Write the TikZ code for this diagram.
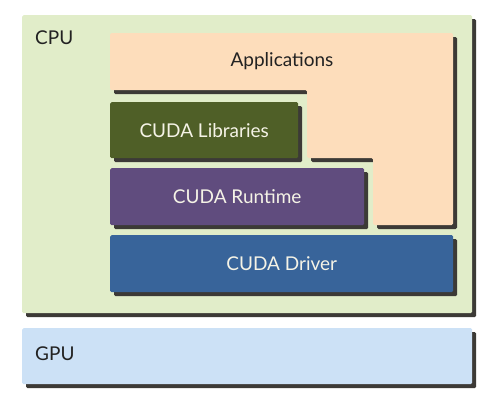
\documentclass[tikz,border=0pt]{standalone}
\usepackage{fontspec}
\setmainfont{Lato}
\usetikzlibrary{positioning,shadows}
\definecolor{cpubg}{HTML}{E1EDC9}
\definecolor{gpubg}{HTML}{CCE1F6}
\definecolor{peach}{HTML}{FDDDBB}
\definecolor{libs}{HTML}{4F5F27}
\definecolor{rtime}{HTML}{604C7E}
\definecolor{drv}{HTML}{38649A}
\definecolor{edgedark}{HTML}{3C3A36}
\definecolor{ink}{HTML}{222222}
\definecolor{pale}{HTML}{F5F3E6}
\tikzset{
  layer/.style={anchor=north west,inner sep=0pt,rounded corners=1.5pt,
    drop shadow={shadow xshift=4pt,shadow yshift=-4pt,fill=edgedark,opacity=1},
    font=\fontsize{19}{22}\selectfont},
  cuda/.style={layer,text=pale},
  hdr/.style={anchor=west,inner sep=0pt,text=ink,font=\fontsize{19}{22}\selectfont},
}

\begin{document}
\begin{tikzpicture}[x=1pt,y=-1pt]
  \useasboundingbox[fill=white] (0,0) rectangle (500,402);
  \node[layer,fill=cpubg,minimum width=450pt,minimum height=298pt] (cpu) at (22,15) {};
  \node[hdr] (cpulbl) at (35,38) {CPU};
  % applications block is L-shaped, so draw it by hand
  \fill[edgedark,shift={(4,4)},rounded corners=1.5pt] (110,33) -- (453,33) -- (453,225) -- (373,225)
    -- (373,158) -- (307,158) -- (307,90) -- (110,90) -- cycle;
  \fill[peach,rounded corners=1.5pt] (110,33) -- (453,33) -- (453,225) -- (373,225)
    -- (373,158) -- (307,158) -- (307,90) -- (110,90) -- cycle;
  \node[hdr,anchor=center] (apps) at (282,61) {Applications};
  \node[cuda,fill=libs,minimum width=188pt,minimum height=56pt] (libs) at (110,102) {CUDA Libraries};
  \node[cuda,fill=rtime,minimum width=254pt,minimum height=57pt] (rt) at (110,168) {CUDA Runtime};
  \node[cuda,fill=drv,minimum width=343pt,minimum height=57pt] (drv) at (110,235) {CUDA Driver};
  \node[layer,fill=gpubg,minimum width=450pt,minimum height=56pt] (gpu) at (22,328) {};
  \node[hdr] (gpulbl) at (35,354) {GPU};
\end{tikzpicture}
\end{document}
